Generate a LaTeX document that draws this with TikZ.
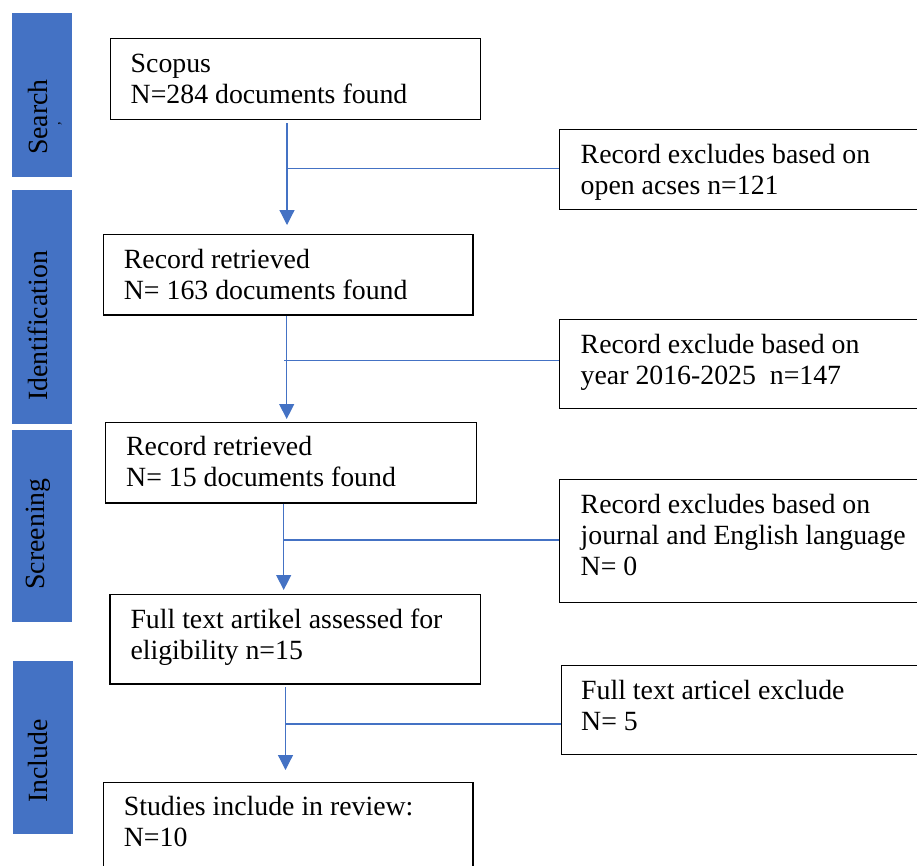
\documentclass[tikz,border=0pt]{standalone}
\usepackage{fontspec}
\setmainfont{Liberation Serif}
\usetikzlibrary{arrows.meta}
\definecolor{barblue}{HTML}{4472C4}
\begin{document}
\begin{tikzpicture}[x=1pt,y=-1pt,
  box/.style={draw=black, line width=1.3pt, anchor=north west, inner sep=0pt},
  txt/.style={anchor=base west, align=left, inner sep=0pt, font=\fontsize{27.8}{31}\selectfont},
  bar/.style={fill=barblue, draw=none, anchor=north west, inner sep=0pt, minimum width=60pt},
  barlabel/.style={rotate=90, inner sep=0pt, font=\fontsize{27.8}{31}\selectfont},
  conn/.style={draw=barblue, line width=1.2pt},
  flow/.style={conn, -{Triangle[width=15pt,length=15pt]}}]
\useasboundingbox (0,0) rectangle (917,865);
\clip (0,0) rectangle (917,865);

% phase bars
\node[bar, minimum height=164.4pt] (pS) at (12,12.3) {};
\node[bar, minimum height=234pt] (pI) at (12,190) {};
\node[bar, minimum height=192pt] (pSc) at (12,430) {};
\node[bar, minimum height=173pt] (pIn) at (12.5,661) {};
\node[barlabel] (lS) at (38,117) {Search};
\node[inner sep=0pt, rotate=90, font=\fontsize{14}{14}\selectfont] (lSdot) at (60,124) {,};
\node[barlabel] (lI) at (38,326) {Identification};
\node[barlabel] (lSc) at (38,534) {Screening};
\node[barlabel] (lIn) at (38,761) {Include};

% main boxes
\node[box, minimum width=370.5pt, minimum height=81pt] (b1) at (109.5,38) {};
\node[box, minimum width=369.6pt, minimum height=80.3pt] (b3) at (102.7,234) {};
\node[box, minimum width=371pt, minimum height=80.6pt] (b5) at (105,421.7) {};
\node[box, minimum width=370.7pt, minimum height=89.3pt] (b7) at (109.3,594) {};
\node[box, minimum width=369.6pt, minimum height=110pt] (b9) at (102.7,781.7) {};
% exclusion boxes
\node[box, minimum width=357.5pt, minimum height=79.5pt] (e1) at (559,129) {};
\node[box, minimum width=357.5pt, minimum height=88.5pt] (e2) at (559,319) {};
\node[box, minimum width=357.5pt, minimum height=122.5pt] (e3) at (559,479) {};
\node[box, minimum width=355.5pt, minimum height=89pt] (e4) at (561,665) {};

% texts (base anchor = baseline of the last line)
\node[txt] (t1) at ([shift={(21,65)}]b1.north west) {Scopus\\N=284 documents found};
\node[txt] (t3) at ([shift={(21,65)}]b3.north west) {Record retrieved\\N= 163 documents found};
\node[txt] (t5) at ([shift={(21,65)}]b5.north west) {Record retrieved\\N= 15 documents found};
\node[txt] (t7) at ([shift={(21,65)}]b7.north west) {Full text artikel assessed for\\eligibility n=15};
\node[txt] (t9) at ([shift={(21,65)}]b9.north west) {Studies include in review:\\N=10};
\node[txt] (u1) at ([shift={(21.5,65)}]e1.north west) {Record excludes based on\\open acses n=121};
\node[txt] (u2) at ([shift={(21.5,65)}]e2.north west) {Record exclude based on\\year 2016-2025~ n=147};
\node[txt] (u3) at ([shift={(21.5,96)}]e3.north west) {Record excludes based on\\journal and English language\\N= 0};
\node[txt] (u4) at ([shift={(20,65)}]e4.north west) {Full text articel exclude\\N= 5};

% junction points
\coordinate (j1) at (287,168.3);
\coordinate (j2) at (286.7,360.3);
\coordinate (j3) at (283.7,540);
\coordinate (j4) at (285.5,724);

% vertical arrows
\draw[flow, shorten >=9pt] ([yshift=-2.7pt]b1.south -| j1) -- (b3.north -| j1);
\draw[flow, shorten >=2.7pt] (b3.south -| j2) -- (b5.north -| j2);
\draw[flow, shorten >=4pt] (b5.south -| j3) -- (b7.north -| j3);
\draw[flow, shorten >=11.7pt] ([yshift=-2.7pt]b7.south -| j4) -- (b9.north -| j4);

% side connectors
\draw[conn] (j1) -- (j1 -| e1.west);
\draw[conn] ([xshift=-2.4pt]j2) -- (j2 -| e2.west);
\draw[conn] (j3) -- (j3 -| e3.west);
\draw[conn] (j4) -- (j4 -| e4.west);
\end{tikzpicture}
\end{document}
